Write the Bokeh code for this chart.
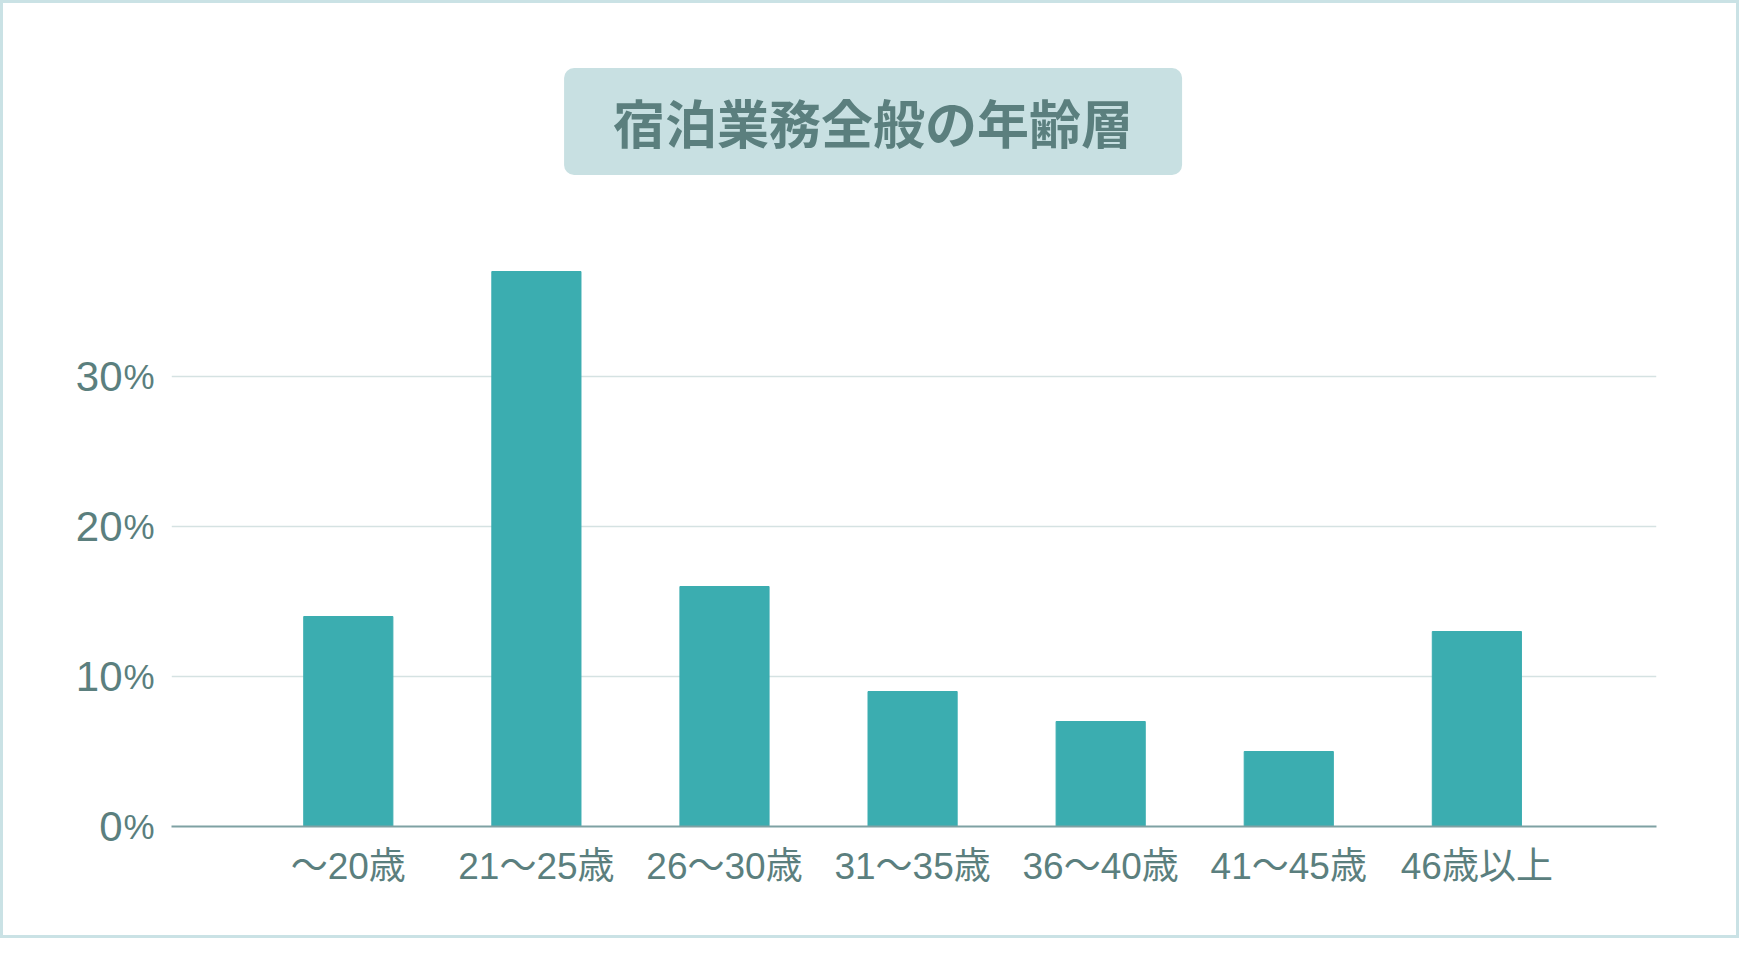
from bokeh.plotting import figure
from bokeh.models import FixedTicker, LinearAxis, Label, Range1d
from bokeh.embed import file_html
from bokeh.resources import INLINE

ages = ["～20歳", "21～25歳", "26～30歳", "31～35歳", "36～40歳", "41～45歳", "46歳以上"]
shares = [14, 37, 16, 9, 7, 5, 13]
y_ticks = [0, 10, 20, 30]
title_text = "宿泊業務全般の年齢層"

ink = "#5b7f7e"
bar_color = "#3badb0"
latin = "Liberation Sans, Noto Sans CJK JP"

xs = list(range(len(ages)))

p = figure(width=1739, height=938, output_backend="svg", toolbar_location=None,
           x_range=Range1d(-0.94, 6.955), y_range=Range1d(0, 54.2),
           min_border_left=168, min_border_right=86, min_border_top=10,
           min_border_bottom=115)
p.styles = {"border": "3px solid #cae2e5"}
p.outline_line_color = None
p.background_fill_color = "white"
p.border_fill_color = "white"

p.vbar(x=xs, top=shares, width=0.474, color=bar_color)

p.xgrid.visible = False
p.ygrid.ticker = FixedTicker(ticks=y_ticks)
p.ygrid.grid_line_color = "#d5e2e2"
p.ygrid.grid_line_width = 1.5

# x axis
xa = p.xaxis[0]
xa.ticker = FixedTicker(ticks=xs)
xa.major_label_overrides = dict(zip(xs, ages))
xa.axis_line_color = "#7fa1a3"
xa.axis_line_width = 2
xa.major_tick_line_color = None
xa.minor_tick_line_color = None
xa.major_label_standoff = 13
xa.major_label_text_font = latin
xa.major_label_text_font_size = "37px"
xa.major_label_text_color = ink

# y axis: "%" next to the frame, numbers outside it
pa = p.yaxis[0]
pa.ticker = FixedTicker(ticks=y_ticks)
pa.major_label_overrides = {t: "%" for t in y_ticks}
pa.axis_line_color = None
pa.major_tick_line_color = None
pa.minor_tick_line_color = None
pa.major_label_standoff = 11
pa.major_label_text_font = "Liberation Sans"
pa.major_label_text_font_size = "35px"
pa.major_label_text_color = ink

na = LinearAxis(ticker=FixedTicker(ticks=y_ticks))
na.axis_line_color = None
na.major_tick_line_color = None
na.minor_tick_line_color = None
na.major_label_standoff = -8
na.major_label_text_font = "Liberation Sans"
na.major_label_text_font_size = "42px"
na.major_label_text_color = ink
p.add_layout(na, "left")

title = Label(x=2.79, y=47.0, text=title_text, text_align="center",
              text_baseline="middle", text_font="Noto Sans CJK JP",
              text_font_style="bold", text_font_size="52px", text_color=ink,
              background_fill_color="#c8e0e2", border_radius=10,
              padding=dict(left=49, right=49, top=16, bottom=16))
p.add_layout(title)

open("out.html", "w").write(file_html(p, INLINE))
